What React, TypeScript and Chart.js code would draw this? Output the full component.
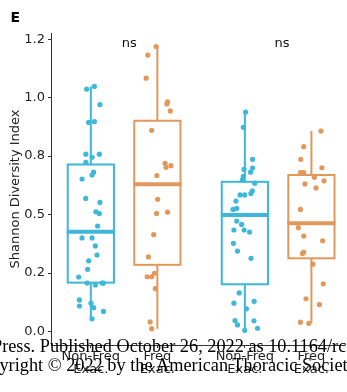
import React, { useEffect, useRef } from 'react';
import { Chart, registerables } from 'chart.js';

Chart.register(...registerables);

// ---- Data ----
const categories = [
  ['Non-Freq', 'Exac.'],
  ['Freq', 'Exac.'],
  ['Non-Freq', 'Exac.'],
  ['Freq', 'Exac.'],
];
const boxPositions = [-0.216, 0.216, 0.784, 1.216];
const boxColors = ['#3DB7DA', '#E0995A', '#3DB7DA', '#E0995A'];

const q1Values = [0.209, 0.285, 0.202, 0.313];
const medianValues = [0.426, 0.63, 0.498, 0.463];
const q3Values = [0.714, 0.901, 0.64, 0.669];
const whiskerLowValues = [0.054, 0.012, 0.005, 0.035];
const whiskerHighValues = [1.048, 1.218, 0.939, 0.857];

const nonFreqAValues = [
  1.048, 1.036, 0.97, 0.897, 0.894, 0.758, 0.758, 0.745, 0.723, 0.681, 0.669, 0.652,
  0.569, 0.552, 0.512, 0.504, 0.451, 0.4, 0.4, 0.366, 0.327, 0.302, 0.266, 0.233,
  0.207, 0.207, 0.207, 0.199, 0.135, 0.121, 0.109, 0.102, 0.086, 0.054,
];
const nonFreqAJitter = [
  0.023, -0.027, 0.059, 0.023, -0.014, -0.032, 0.055, 0.008, -0.032, 0.018, 0.008, -0.057,
  -0.033, 0.059, 0.033, 0.055, 0.044, -0.057, 0.008, 0.029, 0.04, -0.014, -0.021, -0.079,
  -0.024, 0.072, 0.082, 0.029, -0.074, 0.001, -0.074, 0.018, 0.082, 0.008,
];

const freqAValues = [
  1.218, 1.182, 1.083, 0.982, 0.973, 0.943, 0.86, 0.719, 0.709, 0.702, 0.667, 0.565,
  0.51, 0.505, 0.414, 0.319, 0.249, 0.234, 0.234, 0.183, 0.041, 0.012,
];
const freqAJitter = [
  -0.008, -0.062, -0.073, 0.066, 0.062, 0.084, -0.037, 0.05, 0.088, 0.056, -0.003, 0.002,
  0.066, -0.005, -0.024, -0.058, -0.019, -0.066, -0.037, -0.013, -0.047, -0.037,
];

const nonFreqBValues = [
  0.938, 0.873, 0.736, 0.699, 0.693, 0.681, 0.663, 0.648, 0.634, 0.601, 0.59, 0.584,
  0.584, 0.558, 0.526, 0.522, 0.472, 0.458, 0.434, 0.434, 0.425, 0.377, 0.344, 0.313,
  0.165, 0.129, 0.121, 0.097, 0.047, 0.046, 0.028, 0.014, 0.005,
];
const nonFreqBJitter = [
  0.005, -0.01, 0.05, 0.05, -0.005, 0.037, -0.01, -0.016, 0.064, 0.048, 0.039, -0.031,
  -0.001, -0.058, -0.053, -0.077, -0.053, -0.021, -0.071, -0.005, 0.031, -0.074, -0.048, 0.04,
  -0.037, 0.06, -0.071, 0.01, -0.064, 0.059, -0.048, 0.082, -0.001,
];

const freqBValues = [
  0.857, 0.79, 0.736, 0.7, 0.679, 0.679, 0.659, 0.644, 0.631, 0.614, 0.522, 0.444,
  0.408, 0.388, 0.339, 0.333, 0.288, 0.204, 0.14, 0.115, 0.04, 0.035,
];
const freqBJitter = [
  0.062, -0.05, -0.069, 0.068, -0.071, -0.05, 0.019, 0.082, -0.042, 0.03, -0.071, -0.085,
  -0.05, 0.073, -0.05, -0.058, 0.01, 0.077, -0.035, 0.052, -0.071, -0.017,
];

const pointValues = [nonFreqAValues, freqAValues, nonFreqBValues, freqBValues];
const pointJitter = [nonFreqAJitter, freqAJitter, nonFreqBJitter, freqBJitter];

const yTicks = [0, 0.25, 0.5, 0.75, 1.0, 1.25];
const yTickLabels = ['0.0', '0.2', '0.5', '0.8', '1.0', '1.2'];
const yAxisTitle = 'Shannon Diversity Index';

const annotationLabels = ['ns', 'ns'];
const annotationX = [0.034, 1.025];
const annotationY = [1.216, 1.216];

const panelLabel = 'E';
const watermarkLines = [
  'Press. Published October 26, 2022 as 10.1164/rccm',
  'Copyright © 2022 by the American Thoracic Society',
];

// ---- Style constants ----
const BOX_WIDTH = 0.3;
const FONT = 'DejaVu Sans';

const boxPlugin = {
  id: 'boxes',
  beforeDatasetsDraw(chart: any) {
    const { ctx, scales } = chart;
    const x = scales.x;
    const y = scales.y;
    ctx.save();
    boxPositions.forEach((pos, i) => {
      const left = x.getPixelForValue(pos - BOX_WIDTH / 2);
      const right = x.getPixelForValue(pos + BOX_WIDTH / 2);
      const cx = x.getPixelForValue(pos);
      const yq1 = y.getPixelForValue(q1Values[i]);
      const yq3 = y.getPixelForValue(q3Values[i]);
      const ymed = y.getPixelForValue(medianValues[i]);
      const ylo = y.getPixelForValue(whiskerLowValues[i]);
      const yhi = y.getPixelForValue(whiskerHighValues[i]);
      ctx.strokeStyle = boxColors[i];
      ctx.lineWidth = 2;
      ctx.lineCap = 'butt';
      ctx.beginPath();
      ctx.moveTo(cx, yq3);
      ctx.lineTo(cx, yhi);
      ctx.moveTo(cx, yq1);
      ctx.lineTo(cx, ylo);
      ctx.stroke();
      ctx.strokeRect(left, yq3, right - left, yq1 - yq3);
      ctx.lineWidth = 4;
      ctx.beginPath();
      ctx.moveTo(left - 1, ymed);
      ctx.lineTo(right + 1, ymed);
      ctx.stroke();
    });
    ctx.restore();
  },
  afterDatasetsDraw(chart: any) {
    const { ctx, scales } = chart;
    const x = scales.x;
    const y = scales.y;
    ctx.save();
    ctx.fillStyle = '#111';
    ctx.font = `13px "${FONT}"`;
    ctx.textAlign = 'center';
    ctx.textBaseline = 'alphabetic';
    annotationLabels.forEach((t, i) => {
      ctx.fillText(t, x.getPixelForValue(annotationX[i]), y.getPixelForValue(annotationY[i]));
    });
    ctx.font = `bold 14px "${FONT}"`;
    ctx.textAlign = 'left';
    ctx.fillStyle = '#000';
    ctx.fillText(panelLabel, 10.5, 22);
    ctx.restore();
  },
};

const watermarkStyle: React.CSSProperties = {
  position: 'absolute',
  whiteSpace: 'nowrap',
  fontFamily: '"Liberation Serif", serif',
  fontSize: '18.3px',
  lineHeight: '20px',
  color: '#000',
  pointerEvents: 'none',
};

export default function App() {
  const canvasRef = useRef<HTMLCanvasElement | null>(null);

  useEffect(() => {
    if (!canvasRef.current) return;
    const datasets = pointValues.map((vals, i) => ({
      type: 'scatter' as const,
      data: vals.map((v, j) => ({ x: boxPositions[i] + pointJitter[i][j], y: v })),
      backgroundColor: boxColors[i],
      borderWidth: 0,
      pointRadius: 2.6,
      pointHoverRadius: 2.6,
      showLine: false,
    }));

    const chart = new Chart(canvasRef.current, {
      type: 'scatter',
      data: { datasets },
      plugins: [boxPlugin],
      options: {
        animation: false,
        responsive: false,
        devicePixelRatio: 1,
        layout: { padding: { top: 33, left: 0, right: 0, bottom: 0 } },
        plugins: { legend: { display: false }, tooltip: { enabled: false } },
        scales: {
          x: {
            type: 'linear',
            min: -0.4746,
            max: 1.4302,
            afterBuildTicks: (s: any) => {
              s.ticks = boxPositions.map((v) => ({ value: v }));
            },
            afterFit: (s: any) => {
              s.height = 47;
            },
            ticks: {
              autoSkip: false,
              maxRotation: 0,
              minRotation: 0,
              padding: 2,
              color: '#222',
              font: { family: FONT, size: 13, lineHeight: 1.0 },
              callback: (_v: any, i: number) => categories[i],
            },
            grid: {
              display: true,
              drawOnChartArea: false,
              drawTicks: true,
              tickLength: 3,
              tickColor: '#333',
            },
            border: { display: true, color: '#333', width: 1 },
          },
          y: {
            type: 'linear',
            min: -0.0577,
            max: 1.2762,
            afterBuildTicks: (s: any) => {
              s.ticks = yTicks.map((v) => ({ value: v }));
            },
            afterFit: (s: any) => {
              s.width = 51;
            },
            ticks: {
              padding: 3,
              color: '#222',
              font: { family: FONT, size: 13 },
              callback: (_v: any, i: number) => yTickLabels[i],
            },
            grid: {
              display: true,
              drawOnChartArea: false,
              drawTicks: true,
              tickLength: 3,
              tickColor: '#333',
            },
            border: { display: true, color: '#333', width: 1 },
            title: {
              display: true,
              text: yAxisTitle,
              color: '#222',
              font: { family: FONT, size: 13 },
              padding: { top: 8, bottom: 0 },
            },
          },
        },
      } as any,
    });
    return () => chart.destroy();
  }, []);

  return (
    <div
      style={{
        position: 'fixed',
        left: 0,
        top: 0,
        width: 347,
        height: 392,
        overflow: 'hidden',
        background: '#fff',
      }}
    >
      <canvas ref={canvasRef} width={347} height={392} style={{ display: 'block' }} />
      <div style={{ ...watermarkStyle, left: -8, top: 336 }}>{watermarkLines[0]}</div>
      <div style={{ ...watermarkStyle, left: -31, top: 355 }}>{watermarkLines[1]}</div>
    </div>
  );
}
